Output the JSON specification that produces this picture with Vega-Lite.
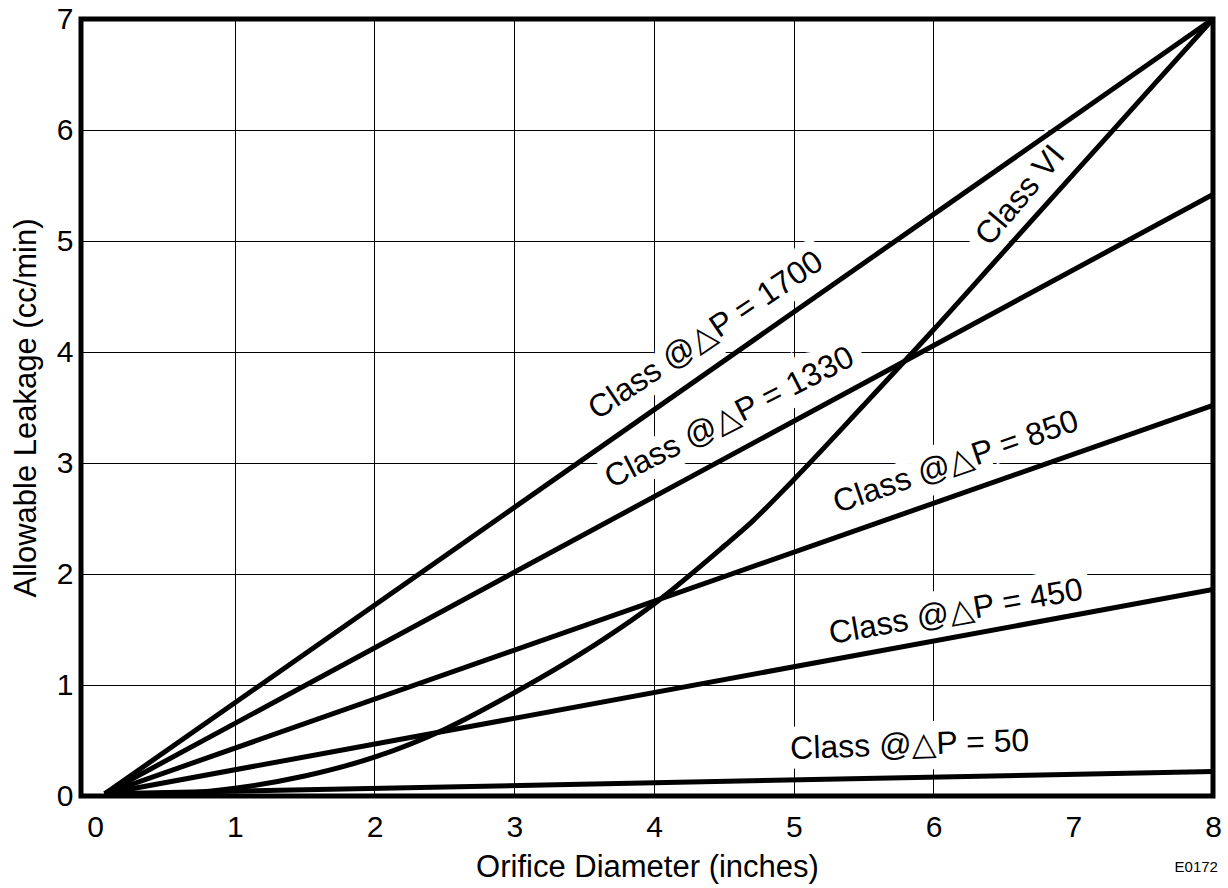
{
  "$schema": "https://vega.github.io/schema/vega-lite/v6.json",
  "width": 1132,
  "height": 777,
  "autosize": "none",
  "padding": {"left": 81, "top": 19, "right": 15, "bottom": 92},
  "background": "white",
  "config": {
    "view": {"stroke": "black", "strokeWidth": 5},
    "font": "Liberation Sans",
    "axis": {
      "labelFont": "Liberation Sans",
      "titleFont": "Liberation Sans",
      "labelFontSize": 30,
      "titleFontSize": 31,
      "titleFontWeight": "normal",
      "labelColor": "black",
      "titleColor": "black",
      "ticks": false,
      "domain": false,
      "grid": true,
      "gridColor": {"condition": {"test": "datum.value == 0 || datum.value == 7 || datum.value == 8", "value": "transparent"}, "value": "black"},
      "gridWidth": 1,
      "gridOpacity": 1
    }
  },
  "datasets": {
    "lines": [
      {"series": "1700", "x": 0.07, "y": 0.02}, {"series": "1700", "x": 8, "y": 7},
      {"series": "1330", "x": 0.07, "y": 0.02}, {"series": "1330", "x": 8, "y": 5.42},
      {"series": "850", "x": 0.07, "y": 0.02}, {"series": "850", "x": 8, "y": 3.52},
      {"series": "450", "x": 0.07, "y": 0.02}, {"series": "450", "x": 8, "y": 1.86},
      {"series": "50", "x": 0.07, "y": 0.02}, {"series": "50", "x": 8, "y": 0.22},
      {"series": "VI", "x": 0.07, "y": 0.02},
      {"series": "VI", "x": 0.5, "y": 0.02},
      {"series": "VI", "x": 0.7, "y": 0.03},
      {"series": "VI", "x": 1.0, "y": 0.07},
      {"series": "VI", "x": 1.5, "y": 0.18},
      {"series": "VI", "x": 2.0, "y": 0.35},
      {"series": "VI", "x": 2.5, "y": 0.6},
      {"series": "VI", "x": 3.0, "y": 0.93},
      {"series": "VI", "x": 3.5, "y": 1.3},
      {"series": "VI", "x": 4.0, "y": 1.73},
      {"series": "VI", "x": 4.5, "y": 2.25},
      {"series": "VI", "x": 4.7, "y": 2.47},
      {"series": "VI", "x": 5.0, "y": 2.85},
      {"series": "VI", "x": 5.5, "y": 3.52},
      {"series": "VI", "x": 6.0, "y": 4.2},
      {"series": "VI", "x": 6.5, "y": 4.9},
      {"series": "VI", "x": 7.0, "y": 5.6},
      {"series": "VI", "x": 7.5, "y": 6.3},
      {"series": "VI", "x": 8.0, "y": 7.0}
    ],
    "labels": [
      {"id": "1700", "text": "Class @△P = 1700", "x": 4.37, "y": 4.15},
      {"id": "1330", "text": "Class @△P = 1330", "x": 4.54, "y": 3.41},
      {"id": "850", "text": "Class @△P = 850", "x": 6.16, "y": 3.01},
      {"id": "450", "text": "Class @△P = 450", "x": 6.16, "y": 1.66},
      {"id": "50", "text": "Class @△P = 50", "x": 5.83, "y": 0.46},
      {"id": "VI", "text": "Class VI", "x": 6.62, "y": 5.41},
      {"id": "code", "text": "E0172", "x": 7.88, "y": -0.64}
    ]
  },
  "encoding": {
    "x": {"field": "x", "type": "quantitative", "scale": {"domain": [-0.1, 8], "nice": false, "zero": false},
      "axis": {"values": [0, 1, 2, 3, 4, 5, 6, 7, 8], "title": "Orifice Diameter (inches)", "labelPadding": 16, "titlePadding": 10, "labelFlush": false}},
    "y": {"field": "y", "type": "quantitative", "scale": {"domain": [0, 7], "nice": false},
      "axis": {"values": [0, 1, 2, 3, 4, 5, 6, 7], "title": "Allowable Leakage (cc/min)", "labelPadding": 8, "titlePadding": 14, "labelFlush": false}}
  },
  "layer": [
    {"data": {"name": "labels"}, "transform": [{"filter": "datum.id == '1700'"}], "mark": {"type": "text", "angle": -34, "fontSize": 32, "fill": "white", "stroke": "white", "strokeWidth": 22}, "encoding": {"text": {"field": "text"}}},
    {"data": {"name": "labels"}, "transform": [{"filter": "datum.id == '1330'"}], "mark": {"type": "text", "angle": -27, "fontSize": 32, "fill": "white", "stroke": "white", "strokeWidth": 22}, "encoding": {"text": {"field": "text"}}},
    {"data": {"name": "labels"}, "transform": [{"filter": "datum.id == '850'"}], "mark": {"type": "text", "angle": -19, "fontSize": 32, "fill": "white", "stroke": "white", "strokeWidth": 22}, "encoding": {"text": {"field": "text"}}},
    {"data": {"name": "labels"}, "transform": [{"filter": "datum.id == '450'"}], "mark": {"type": "text", "angle": -10, "fontSize": 32, "fill": "white", "stroke": "white", "strokeWidth": 22}, "encoding": {"text": {"field": "text"}}},
    {"data": {"name": "labels"}, "transform": [{"filter": "datum.id == '50'"}], "mark": {"type": "text", "angle": -2, "fontSize": 32, "fill": "white", "stroke": "white", "strokeWidth": 22}, "encoding": {"text": {"field": "text"}}},
    {"data": {"name": "labels"}, "transform": [{"filter": "datum.id == 'VI'"}], "mark": {"type": "text", "angle": -50, "fontSize": 32, "fill": "white", "stroke": "white", "strokeWidth": 22}, "encoding": {"text": {"field": "text"}}},
    {"data": {"name": "lines"}, "mark": {"type": "line", "color": "black", "strokeWidth": 5, "interpolate": "monotone", "clip": true}, "encoding": {"detail": {"field": "series"}}},
    {"data": {"name": "labels"}, "transform": [{"filter": "datum.id == '1700'"}], "mark": {"type": "text", "angle": -34, "fontSize": 32, "color": "black"}, "encoding": {"text": {"field": "text"}}},
    {"data": {"name": "labels"}, "transform": [{"filter": "datum.id == '1330'"}], "mark": {"type": "text", "angle": -27, "fontSize": 32, "color": "black"}, "encoding": {"text": {"field": "text"}}},
    {"data": {"name": "labels"}, "transform": [{"filter": "datum.id == '850'"}], "mark": {"type": "text", "angle": -19, "fontSize": 32, "color": "black"}, "encoding": {"text": {"field": "text"}}},
    {"data": {"name": "labels"}, "transform": [{"filter": "datum.id == '450'"}], "mark": {"type": "text", "angle": -10, "fontSize": 32, "color": "black"}, "encoding": {"text": {"field": "text"}}},
    {"data": {"name": "labels"}, "transform": [{"filter": "datum.id == '50'"}], "mark": {"type": "text", "angle": -2, "fontSize": 32, "color": "black"}, "encoding": {"text": {"field": "text"}}},
    {"data": {"name": "labels"}, "transform": [{"filter": "datum.id == 'VI'"}], "mark": {"type": "text", "angle": -50, "fontSize": 32, "color": "black"}, "encoding": {"text": {"field": "text"}}},
    {"data": {"name": "labels"}, "transform": [{"filter": "datum.id == 'code'"}], "mark": {"type": "text", "fontSize": 15, "color": "black"}, "encoding": {"text": {"field": "text"}}}
  ]
}
